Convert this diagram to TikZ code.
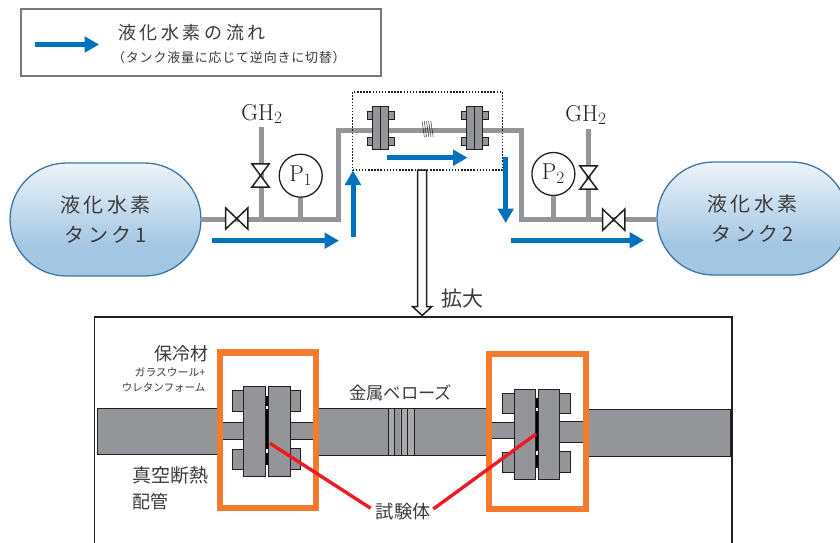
\documentclass[tikz,border=0pt]{standalone}
\usepackage{fontspec}
\usetikzlibrary{arrows.meta,shapes.misc}
\newfontfamily\jpa[LetterSpace=20]{Noto Sans CJK JP}
\newfontfamily\jpb[LetterSpace=17]{Noto Sans CJK JP}
\newfontfamily\jpc[LetterSpace=6]{Noto Sans CJK JP}
\newfontfamily\jpd{Noto Sans CJK JP}
\definecolor{pipegray}{HTML}{939598}
\definecolor{flowblue}{HTML}{0071BC}
\definecolor{inkdark}{HTML}{231F20}
\definecolor{textdark}{HTML}{3A3A3A}
\definecolor{orangebox}{HTML}{F37B2E}
\definecolor{redline}{HTML}{ED1C24}
\definecolor{tankedge}{HTML}{3F76A3}
\definecolor{tanklow}{HTML}{A3C6E3}
\definecolor{tanktop}{HTML}{EDF4FA}
\definecolor{bellowlight}{HTML}{A7A9AC}
\definecolor{legendedge}{HTML}{77787B}
\pgfdeclareverticalshading{tankshade}{100bp}{color(0bp)=(tanklow); color(38bp)=(tanklow); color(75bp)=(tanktop); color(100bp)=(tanktop)}
\tikzset{
  x=1pt,y=-1pt,
  pipe/.style={draw=pipegray,line width=5pt,line join=miter},
  flow/.style={draw=flowblue,line width=5pt,-{Triangle[length=14.5pt,width=15.5pt]}},
  tank/.style={rounded rectangle,rounded rectangle arc length=180,draw=tankedge,line width=1.3pt,shading=tankshade,minimum width=191pt,minimum height=113pt,inner sep=0pt,align=center,text=textdark,font=\jpb\fontsize{20}{30}\selectfont},
  gauge/.style={circle,draw=inkdark,line width=1.3pt,fill=white,minimum size=43pt,inner sep=0pt,text=inkdark,font=\fontsize{23}{23}\selectfont},
  label/.style={inner sep=0pt,text=textdark},
  valveline/.style={draw=inkdark,line width=1.5pt,fill=white,line join=miter},
  part/.style={draw=inkdark,line width=0.9pt,fill=pipegray},
  bigpart/.style={draw=inkdark,line width=1pt,fill=pipegray},
  orangeframe/.style={draw=orangebox,line width=6.3pt,line join=miter},
  specimen/.style={draw=redline,line width=3.4pt},
}
\begin{document}
\begin{tikzpicture}
\useasboundingbox (0,0) rectangle (840,543);
% legend
\node[draw=legendedge,line width=2pt,fill=white,minimum width=360pt,minimum height=66pt,inner sep=0pt] (legend) at (200.5,42.5) {};
\coordinate (la) at (35,44.5);
\coordinate (lb) at (99,44.5);
\draw[flow] (la) -- (lb);
\node[label,anchor=west,font=\jpa\fontsize{18}{18}\selectfont] (lt1) at (118,33) {液化水素の流れ};
\node[label,anchor=west,font=\jpc\fontsize{13}{13}\selectfont] (lt2) at (112,58) {（タンク液量に応じて逆向きに切替）};
% tanks
\node[tank] (tank1) at (105.5,219.5) {液化水素\\タンク1};
\node[tank] (tank2) at (752.5,218.5) {液化水素\\タンク2};
% pipe
\coordinate (c1) at (338,219);
\coordinate (c2) at (338,130);
\coordinate (c3) at (521,130);
\coordinate (c4) at (521,219.5);
\coordinate (g1top) at (261,127);
\coordinate (g1bot) at (261,219);
\coordinate (g2top) at (588.7,129);
\coordinate (g2bot) at (588.7,219.5);
\draw[pipe] (tank1.east |- c1) -- (c1) -- (c2) -- (c3) -- (c4) -- (c4 -| tank2.west);
\draw[pipe] (g1top) -- (g1bot);
\draw[pipe] (g2top) -- (g2bot);
% gauges
\node[gauge] (p1) at (300.7,175.7) {P$_1$};
\node[gauge] (p2) at (553.4,174) {P$_2$};
\coordinate (p1b) at (300.7,219);
\coordinate (p2b) at (553.4,219.5);
\draw[pipe] (p1.south) -- (p1b);
\draw[pipe] (p2.south) -- (p2b);
% valves
\node[inner sep=0pt,minimum width=22pt,minimum height=21pt] (v1) at (236.7,218.5) {};
\draw[valveline] (v1.north west) -- (v1.south east) -- (v1.north east) -- (v1.south west) -- cycle;
\node[inner sep=0pt,minimum width=22pt,minimum height=21pt] (v4) at (613.7,219.7) {};
\draw[valveline] (v4.north west) -- (v4.south east) -- (v4.north east) -- (v4.south west) -- cycle;
\node[inner sep=0pt,minimum width=17pt,minimum height=23pt] (v2) at (260.5,175.5) {};
\draw[valveline] (v2.north west) -- (v2.south east) -- (v2.south west) -- (v2.north east) -- cycle;
\node[inner sep=0pt,minimum width=17pt,minimum height=23pt] (v3) at (588.5,177.5) {};
\draw[valveline] (v3.north west) -- (v3.south east) -- (v3.south west) -- (v3.north east) -- cycle;
% GH2 labels
\node[label,text=inkdark,font=\fontsize{23}{23}\selectfont] (gh1) at (262,114) {GH$_2$};
\node[label,text=inkdark,font=\fontsize{23}{23}\selectfont] (gh2) at (586,115) {GH$_2$};
% dotted box
\node[draw=inkdark,line width=1.3pt,dash pattern=on 1.5pt off 1.6pt,minimum width=150pt,minimum height=78pt,inner sep=0pt] (dbox) at (427.5,131) {};
% small flanges
\foreach \cx in {380,474.7}{
  \draw[part] (\cx-13,111) rectangle (\cx+14,119);
  \draw[part] (\cx-13,137) rectangle (\cx+14,145);
  \draw[part] (\cx-8,106) rectangle (\cx+8,149);
  \draw[inkdark,line width=0.9pt] (\cx,106) -- (\cx,149);
}
% small bellows
\foreach \bx in {422,424.2,426.4,428.6,430.8}{
  \draw[inkdark,line width=0.45pt] (\bx,121) -- (\bx+2.4,137);
}
% flow arrows
\coordinate (f1a) at (212,240.7); \coordinate (f1b) at (339,240.7);
\coordinate (f2a) at (353,237); \coordinate (f2b) at (353,170.5);
\coordinate (f3a) at (387,157.7); \coordinate (f3b) at (467.5,157.7);
\coordinate (f4a) at (505.7,157); \coordinate (f4b) at (505.7,223);
\coordinate (f5a) at (511,240.3); \coordinate (f5b) at (644,240.3);
\draw[flow] (f1a) -- (f1b);
\draw[flow] (f2a) -- (f2b);
\draw[flow] (f3a) -- (f3b);
\draw[flow] (f4a) -- (f4b);
\draw[flow] (f5a) -- (f5b);
% lower frame
\coordinate (fa) at (94.5,543);
\coordinate (fb) at (94.5,317);
\coordinate (fc) at (732,317);
\coordinate (fd) at (732,543);
\draw[inkdark,line width=1.4pt,line join=miter] (fa) -- (fb) -- (fc) -- (fd);
% hollow zoom arrow
\coordinate (zs) at (422.2,170);
\draw[draw=inkdark,line width=1.5pt,fill=white,line join=miter] (zs) ++(-4.5,0) -- ++(0,136.7) -- ++(-5,0) -- (422.2,315.5) -- ++(9.5,-8.8) -- ++(-5,0) -- ++(0,-136.7) -- cycle;
\node[label,font=\jpd\fontsize{21}{21}\selectfont] (kakudai) at (462,299) {拡大};
% big pipe
\draw[bigpart] (97.3,408) rectangle (220,454.7);
\draw[bigpart] (316,408) rectangle (489,455);
\draw[bigpart] (586,409) rectangle (730.7,456);
\fill[bellowlight] (388,408.5) rectangle (394,454.5);
\fill[bellowlight] (400,408.5) rectangle (407,454.5);
\fill[bellowlight] (407,408.5) rectangle (414,454.5);
\foreach \lx in {388,394.5,401,407.5,414}{
  \draw[inkdark,line width=0.9pt] (\lx,408) -- (\lx,455);
}
% white interior of frames
\fill[white] (220,352.5) rectangle (316,508);
\fill[white] (489,354) rectangle (586,509);
% left joint
\draw[bigpart] (222,422.3) rectangle (244,439.3);
\draw[bigpart] (289,422.3) rectangle (314,439.3);
\draw[bigpart] (232.3,390.3) rectangle (243.7,411.3);
\draw[bigpart] (232.3,449.3) rectangle (243.7,469.3);
\draw[bigpart] (290,390.3) rectangle (300.3,411.3);
\draw[bigpart] (290,448.3) rectangle (300.3,469.3);
\draw[bigpart] (243.7,386.7) rectangle (265.7,476.7);
\draw[bigpart] (268,386.7) rectangle (290,476.7);
\draw[black,line width=2pt] (266.8,396) -- (266.8,406);
\draw[black,line width=2pt] (266.8,409) -- (266.8,449);
\draw[black,line width=2pt] (266.8,453) -- (266.8,465);
% right joint
\draw[bigpart] (491,422) rectangle (514,438.3);
\draw[bigpart] (559,421.7) rectangle (584,442);
\draw[bigpart] (502.7,393.7) rectangle (514,413.7);
\draw[bigpart] (502.7,452) rectangle (514,472.3);
\draw[bigpart] (559.3,393) rectangle (570,413);
\draw[bigpart] (559.3,451.7) rectangle (570,472);
\draw[bigpart] (514,389.3) rectangle (535.7,479.7);
\draw[bigpart] (538.3,389.3) rectangle (559.3,479.7);
\draw[black,line width=2pt] (537,398) -- (537,408);
\draw[black,line width=2pt] (537,411) -- (537,451);
\draw[black,line width=2pt] (537,455) -- (537,468);
% orange frames
\node[orangeframe,minimum width=96.4pt,minimum height=155.7pt,inner sep=0pt] (ob1) at (268,430.3) {};
\node[orangeframe,minimum width=96.7pt,minimum height=155.3pt,inner sep=0pt] (ob2) at (537.5,431.5) {};
% labels
\node[label,anchor=east,font=\jpd\fontsize{18}{18}\selectfont] (hr) at (209,354) {保冷材};
\node[label,anchor=east,font=\jpd\fontsize{10.8}{11}\selectfont] (gw) at (205.5,372.7) {ガラスウール+};
\node[label,anchor=east,font=\jpd\fontsize{10.5}{11}\selectfont] (ur) at (205.5,388) {ウレタンフォーム};
\node[label,anchor=west,font=\jpd\fontsize{19}{19}\selectfont] (sk) at (132,475) {真空断熱};
\node[label,anchor=west,font=\jpd\fontsize{18}{18}\selectfont] (hk) at (132,502) {配管};
\node[label,anchor=west,font=\jpd\fontsize{17.3}{18}\selectfont] (kb) at (349,393) {金属ベローズ};
\node[label,anchor=west,font=\jpd\fontsize{18.3}{18}\selectfont] (tk) at (375.7,512) {試験体};
% specimen leaders
\coordinate (r1) at (270,443.3);
\coordinate (r1e) at (370.7,508.3);
\coordinate (r2) at (536,434);
\coordinate (r2e) at (433.3,509);
\draw[specimen] (r1) -- (r1e);
\draw[specimen] (r2) -- (r2e);
\end{tikzpicture}
\end{document}
